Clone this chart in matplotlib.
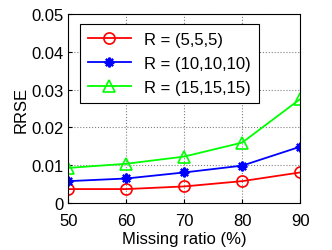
import matplotlib
matplotlib.use('Agg')
import matplotlib.pyplot as plt

plt.rcParams['font.family'] = ['Liberation Sans', 'DejaVu Sans']

# Data
missing = [50, 60, 70, 80, 90]
r5 = [0.0037, 0.0037, 0.0044, 0.0058, 0.0081]
r10 = [0.0058, 0.0065, 0.0081, 0.0099, 0.0149]
r15 = [0.0093, 0.0104, 0.0123, 0.0160, 0.0275]
labels = ['R = (5,5,5)', 'R = (10,10,10)', 'R = (15,15,15)']

fig = plt.figure(figsize=(3.32, 2.51), dpi=100)
ax = fig.add_axes([0.206, 0.187, 0.698, 0.753])

ax.plot(missing, r5, '-o', color='red', mfc='none', ms=8, mew=1.2, lw=1.3, label=labels[0])
ax.plot(missing, r10, '-', marker=(8, 2, 0), color='blue', ms=7, mew=1.6, lw=1.3, label=labels[1])
ax.plot(missing, r15, '-^', color='#00ff00', mfc='none', ms=9, mew=1.2, lw=1.3, label=labels[2])

ax.set_xlim(50, 90)
ax.set_ylim(0, 0.05)
ax.set_xticks(missing)
ax.set_yticks([0, 0.01, 0.02, 0.03, 0.04, 0.05])
ax.set_yticklabels(['0', '0.01', '0.02', '0.03', '0.04', '0.05'])
ax.tick_params(direction='in', labelsize=12, length=3)
ax.tick_params(axis='x', pad=7)
ax.grid(True, linestyle=':', color='gray', lw=0.8)
ax.set_xlabel('Missing ratio (%)', fontsize=12, labelpad=2)
ax.set_ylabel('RRSE', fontsize=12, labelpad=2)

leg = ax.legend(loc='upper left', fontsize=12, fancybox=False, framealpha=1,
                edgecolor='black', handlelength=2.6, borderpad=0.45,
                labelspacing=0.55, bbox_to_anchor=(0.015, 0.99))
leg.get_frame().set_linewidth(0.8)

fig.savefig('out.png', dpi=100)
